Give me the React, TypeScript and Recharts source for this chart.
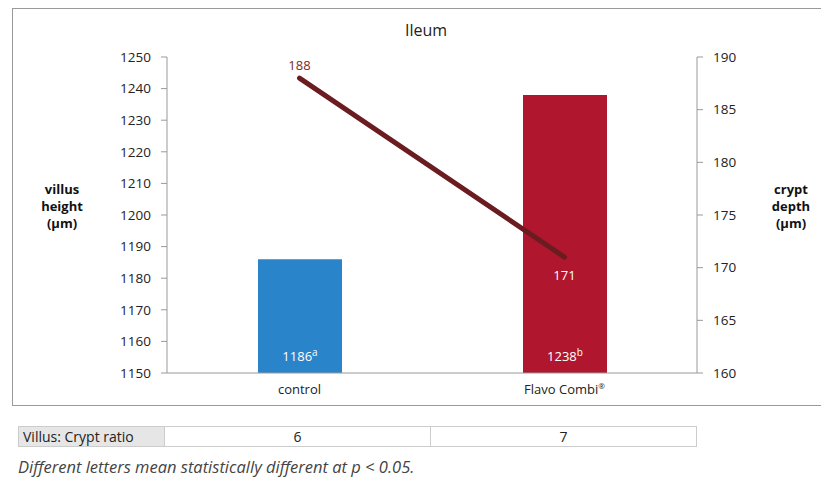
import { ComposedChart, Bar, Line, XAxis, YAxis, LabelList, Cell } from 'recharts';

const groups = ['control', 'Flavo Combi®'];
const villusHeight = [1186, 1238];
const villusLetters = ['a', 'b'];
const cryptDepth = [188, 171];
const ratios = ['6', '7'];

const villusTicks = [1150, 1160, 1170, 1180, 1190, 1200, 1210, 1220, 1230, 1240, 1250];
const cryptTicks = [160, 165, 170, 175, 180, 185, 190];

const BAR_COLORS = ['#2a84ca', '#b0172e'];
const FONT = '"Open Sans", "Noto Sans", sans-serif';

const data = groups.map((name, i) => ({
  name,
  villus: villusHeight[i],
  crypt: cryptDepth[i],
  letter: villusLetters[i],
}));

const BarLabel = (props: any) => {
  const { x, y, width, height, value, index } = props;
  return (
    <text
      x={x + width / 2}
      y={y + height - 12}
      textAnchor="middle"
      fill="#fff"
      fontSize={13}
      fontFamily={FONT}
    >
      {value}
      <tspan fontSize={10} dy={-5}>{villusLetters[index]}</tspan>
    </text>
  );
};

const LineLabel = (props: any) => {
  const { x, y, value, index } = props;
  const above = index === 0;
  return (
    <text
      x={x}
      y={above ? y - 8 : y + 23}
      textAnchor="middle"
      fill={above ? '#7a2a2e' : '#fff'}
      fontSize={13}
      fontFamily={FONT}
    >
      {value}
    </text>
  );
};

// category tick with a small raised ® mark
const CategoryTick = (props: any) => {
  const { x, y, payload } = props;
  const label: string = payload.value;
  const reg = label.endsWith('®');
  return (
    <text x={x} y={y + 13} textAnchor="middle" fill="#222" fontSize={13} fontFamily={FONT}>
      {reg ? label.slice(0, -1) : label}
      {reg && <tspan fontSize={8} dy={-5}>®</tspan>}
    </text>
  );
};

const sideLabel = (lines: string[], left: number) => (
  <div
    style={{
      position: 'absolute',
      left,
      top: 181,
      width: 70,
      textAlign: 'center',
      fontFamily: FONT,
      fontWeight: 700,
      fontSize: 13,
      lineHeight: '17px',
      color: '#111',
    }}
  >
    {lines.map((l) => (
      <div key={l}>{l}</div>
    ))}
  </div>
);

export default function App() {
  return (
    <div style={{ position: 'absolute', left: 0, top: 0, width: 821, height: 480, background: '#fff', overflow: 'hidden' }}>
      <div
        style={{
          position: 'absolute',
          left: 12,
          top: 8,
          width: 820,
          height: 396,
          borderTop: '1.5px solid #999',
          borderLeft: '1.5px solid #999',
          borderBottom: '1.5px solid #999',
        }}
      />
      <div
        style={{
          position: 'absolute',
          left: 0,
          top: 19,
          width: 852,
          textAlign: 'center',
          fontFamily: FONT,
          fontSize: 16,
          color: '#222',
        }}
      >
        Ileum
      </div>
      {sideLabel(['villus', 'height', '(µm)'], 27)}
      {sideLabel(['crypt', 'depth', '(µm)'], 756)}
      <div style={{ position: 'absolute', left: 0, top: 0 }}>
        <ComposedChart
          width={821}
          height={410}
          data={data}
          margin={{ top: 57, right: 64, bottom: 7, left: 12 }}
        >
          <XAxis
            dataKey="name"
            height={30}
            axisLine={{ stroke: '#999' }}
            tickLine={false}
            tick={<CategoryTick />}
          />
          <YAxis
            yAxisId="left"
            width={155}
            domain={[1150, 1250]}
            ticks={villusTicks}
            allowDataOverflow
            axisLine={{ stroke: '#999' }}
            tickLine={{ stroke: '#999' }}
            tickSize={6}
            tickMargin={10}
            tick={{ fill: '#222', fontSize: 13.5, fontFamily: FONT }}
          />
          <YAxis
            yAxisId="right"
            orientation="right"
            width={60}
            domain={[160, 190]}
            ticks={cryptTicks}
            axisLine={{ stroke: '#999' }}
            tickLine={{ stroke: '#999' }}
            tickSize={6}
            tickMargin={10}
            tick={{ fill: '#222', fontSize: 13.5, fontFamily: FONT }}
          />
          <Bar yAxisId="left" dataKey="villus" barSize={84} isAnimationActive={false}>
            {data.map((_, i) => (
              <Cell key={i} fill={BAR_COLORS[i % BAR_COLORS.length]} />
            ))}
            <LabelList dataKey="villus" content={BarLabel} />
          </Bar>
          <Line
            yAxisId="right"
            dataKey="crypt"
            stroke="#6b1c20"
            strokeWidth={5}
            strokeLinecap="round"
            dot={false}
            activeDot={false}
            isAnimationActive={false}
          >
            <LabelList dataKey="crypt" content={LineLabel} />
          </Line>
        </ComposedChart>
      </div>
      <table
        style={{
          position: 'absolute',
          left: 18,
          top: 426,
          borderCollapse: 'collapse',
          fontFamily: FONT,
          fontSize: 14,
          color: '#222',
        }}
      >
        <tbody>
          <tr style={{ height: 20 }}>
            <td style={{ width: 146, padding: '0 4px', background: '#e6e6e6', border: '1.5px solid #ccc', whiteSpace: 'nowrap', boxSizing: 'border-box' }}>
              Villus: Crypt ratio
            </td>
            {ratios.map((r) => (
              <td key={r} style={{ width: 266, padding: 0, textAlign: 'center', border: '1.5px solid #ccc', boxSizing: 'border-box' }}>
                {r}
              </td>
            ))}
          </tr>
        </tbody>
      </table>
      <div
        style={{
          position: 'absolute',
          left: 18,
          top: 455,
          fontFamily: FONT,
          fontStyle: 'italic',
          fontSize: 16.5,
          color: '#444',
        }}
      >
        Different letters mean statistically different at p &lt; 0.05.
      </div>
    </div>
  );
}
